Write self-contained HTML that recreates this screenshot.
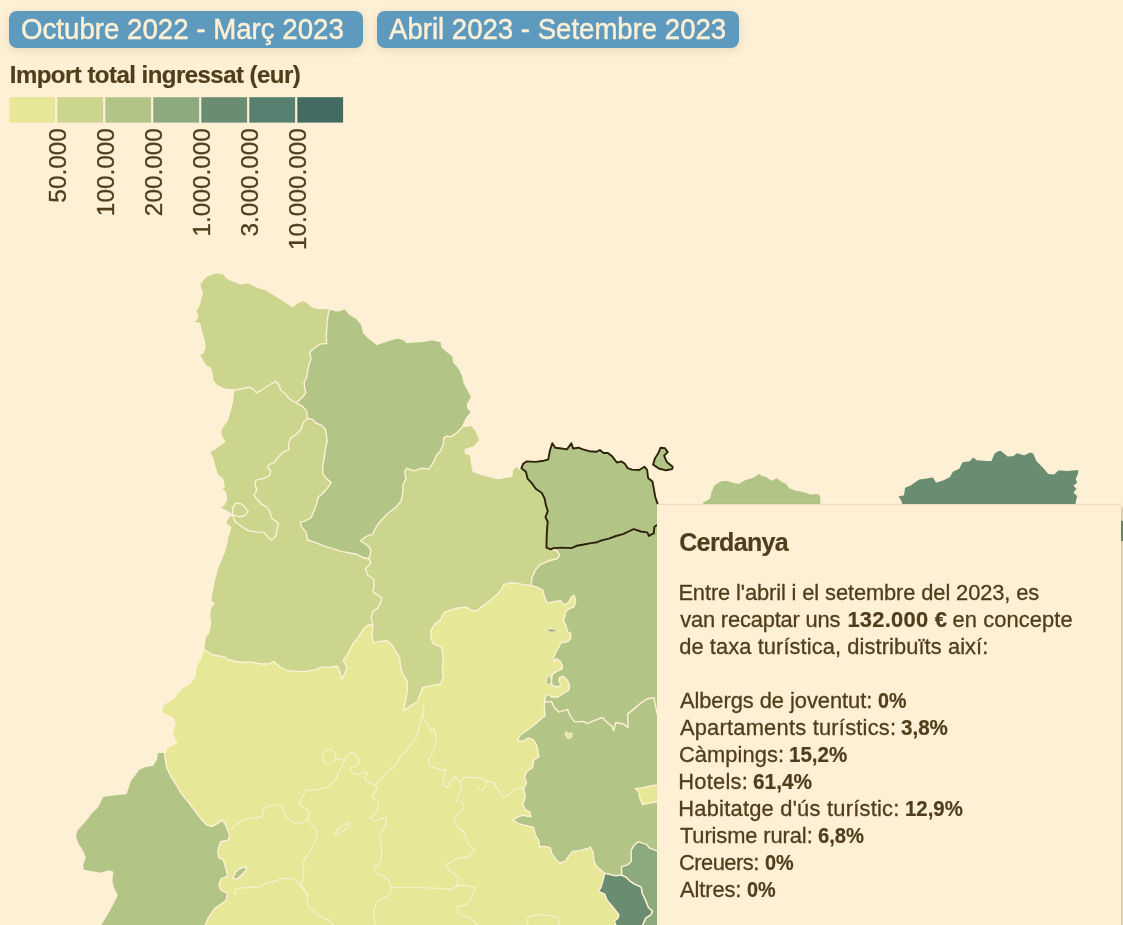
<!DOCTYPE html>
<html lang="ca"><head><meta charset="utf-8"><title>Taxa turística</title>
<style>
html,body{margin:0;padding:0;}
body{width:1123px;height:925px;overflow:hidden;background:#FDF0D5;font-family:"Liberation Sans",Arial,sans-serif;color:#4f3e1c;position:relative;}
svg{position:absolute;left:0;top:0;}
.btn{position:absolute;height:36.7px;border-radius:8px;background:#5E9ABE;box-shadow:0 2px 9px rgba(120,100,40,0.16);}
.lg{font-size:24.3px;fill:#4f3e1c;stroke:#4f3e1c;stroke-width:0.3px;font-family:"Liberation Sans",Arial,sans-serif;}
.tip{position:absolute;left:656.9px;top:504px;width:464.3px;height:440px;background:#FDF0D5;border-radius:0 3px 3px 3px;border-top:1px solid rgba(190,160,90,0.22);box-sizing:border-box;box-shadow:2px 2px 3px rgba(110,90,40,0.28);}
.t{position:absolute;line-height:30px;white-space:nowrap;}
</style></head><body>
<svg width="1123" height="925" viewBox="0 0 1123 925">
<path d="M203.3,648.8 201.6,656 198,663.1 195.3,668.5 195.3,675.6 190.8,682.7 184.6,686.3 178.4,691.7 173.9,697.9 166.8,702.4 163.2,705 161.4,712.6 173.5,718.6 175,724.7 172,733.8 176.6,742.8 167.5,747.4 165.3,752.1 162,758 160,800 160,930 645,930 645,860 620,800 620,560 520,560 450,590 400,610 330,620 250,635Z" fill="#E6E797" stroke="#FDF0D5" stroke-width="1.4" stroke-linejoin="round" />
<path d="M203.3,648.8 204.2,645.3 205.1,637.2 208.7,632.8 210.5,623.9 209.6,614.9 210.5,607.8 214,603.3 210.5,600.7 211.4,595.3 213.1,586.4 214.9,577.5 217.6,568.5 221.2,559.6 224.7,550.7 227.4,540 226.5,540.5 229.2,533 230.8,527.6 227,524.9 225.9,521.6 228.6,517.3 231.9,514.6 224.9,510.3 219.5,507.6 223.2,505.4 225.9,501.6 226.5,497.3 225.4,491.9 220.5,488.6 224,487.6 223.2,480 217.5,474.7 214.8,466.7 213,459.6 209.4,451.6 213.9,449.8 218.4,446.2 224.6,441.7 221.4,436.4 220.7,430.1 222.8,426.6 227.3,420.3 230,411.4 232.6,400.7 233.5,390.2 224.6,389.3 217.5,385.8 213,381.3 212.1,374.2 210.3,367.9 205.9,366.2 202.3,359.9 199.3,354.6 203.2,352.8 205,347.4 204.1,340.3 201.4,331.4 199.6,323.3 193.4,322.8 197.8,317.1 195.7,310.8 198.7,306.4 200.5,300.1 202.3,293 199.6,285 202.3,280.5 206.8,275.7 216.6,272.5 223.7,273.9 226.7,277.8 233.5,281.1 240.7,284.1 246.9,282.8 251.4,284.1 258.5,287.7 265.6,289.4 272.8,293.9 279.9,298.4 287,302.8 292.4,306.7 297.8,302.5 303.1,300.1 307.6,302.8 312,306.7 319.2,308.5 326.3,308.2 329.5,309.1 360,400 440,440 462.7,426.5 471.5,425.4 476,430.7 479.9,440.5 474.2,446.8 465.3,449.4 465.3,453 470.6,454.8 471.5,462.8 473.3,471.7 481.3,474.4 490.2,476.7 498.3,478.5 504.5,477.4 511.7,476.2 512.5,470 516.1,466 519.7,469.1 521.5,468.2 560,500 560,580 531.1,585.5 523.1,584.6 516,583.2 509.7,582.8 503.5,584.6 501.7,589.1 498.1,593.5 491,599.8 483.9,605.1 476.7,610.5 471.8,610.7 465.5,607.1 458.4,608 451.3,609.8 444.1,612.5 440.6,619.6 435.2,624.1 430.8,630.3 430.8,637.5 433.4,643.7 441.5,647.3 443.2,657.1 442.4,667.8 443.2,676.7 440.6,683.9 431.7,685.6 422.7,687.4 420.1,694.6 417.4,701.7 410.2,706.2 403.1,710.6 403.1,710.6 404.9,703.5 407,692.8 407.6,682.1 403.1,674.9 400.4,666 399.5,657.1 396,651.7 391.5,644.6 387,640.7 379.9,641.4 373.7,642.8 372.1,635.7 372.8,625 372.8,625 368.3,625 363.9,628.5 358.5,636.6 353.1,643.7 347.8,653.5 343.3,660.7 346.9,667.8 344.2,674.9 341.6,679.4 339.8,671.4 337.1,666 328.2,667.8 321.9,666.9 315.7,669.6 306.8,671.4 296.1,671.4 287.1,670.5 280,666.9 276.5,664 273.8,661.3 268.5,664 261.3,664 252.4,662.2 243.5,662.2 234.6,661.3 227.4,659.5 224.7,656.9 218.5,656 211.4,654.2 206.9,651.5 203.3,648.8Z" fill="#CBD58D" stroke="#FDF0D5" stroke-width="1.4" stroke-linejoin="round" />
<path d="M329.5,309.1 337.8,311.1 345,308.7 349.4,314.1 356.6,318.5 361.9,324.8 363.7,332.8 369.1,338.2 377.1,344.4 381.6,342.6 389.6,340 397.6,337.8 403.9,339.6 406.5,342.6 414.6,341.7 423.5,341.4 432.4,339.6 441.3,341.7 442.2,347.1 448.5,352.4 452.9,356 453.8,362.3 459.2,368.5 462.7,375.6 464.2,382.8 468.1,389.9 471.7,397 467.7,404.2 467.7,407.8 471.7,412.2 466.3,418.5 462.7,426.5 457.2,432.5 451,436.9 446.5,436.1 443.9,437.8 443,445 440.3,451.2 436.7,454.8 433.1,462.8 428.7,469.1 422.4,468.2 413.5,470.8 406.4,468.2 404.6,471.7 406,478.9 402.8,485.1 402.8,493.1 401,501.2 395.7,507.4 388.5,512.8 381.4,519.9 376.1,527 372.5,534.2 365.6,536.7 360.3,540.8 364.7,543.5 369.2,547.1 371,551.6 368.8,558.7 363.9,557.8 356.7,554.2 351.4,553.3 342.4,551.6 333.5,548.9 324.6,546.2 315.7,542.6 307.7,540 305.9,531.9 301.4,526.6 300.5,522.1 304.9,521.1 311.1,517.6 313.8,511.3 316.5,504.2 318.3,497 322.7,493.5 328.1,487.2 331.3,482.4 327.2,479.2 322.7,473.9 322.7,466.7 324.2,457.8 325.4,448.9 327.2,441.7 326.3,434.6 325.4,429.3 320.9,424.8 315.6,423 312.9,419.4 307.6,418.5 306.7,411.4 303.1,406.9 296,402.7 299.5,400.1 303.1,396.5 305.8,392.9 304.9,388.5 304,383.1 306.7,376.9 307.6,370.6 309.3,363.5 311.1,358.1 309.3,352.8 312.9,349.2 317.4,346 320.9,343.9 326.7,343.5 326.3,336.7 326.7,329.6 327.2,320.7 328.4,313.5 329.5,309.1Z" fill="#B3C487" stroke="#FDF0D5" stroke-width="1.4" stroke-linejoin="round" />
<path d="M521.4,468.2 523.2,463.7 526.8,461.4 535.7,461.9 543.7,460.7 548.2,459.6 550,450.3 552.3,443.2 555.3,447.7 561.6,448.5 566.9,449.4 571.4,443.2 573.1,448.5 578.5,447.7 583,449.4 589.2,451.2 596.3,451.8 599.9,450 603.5,453 607.9,453 612.4,456.6 616.9,462.5 621.3,461.4 624.9,463.7 627.6,468.2 632,469.6 639.2,470 644.5,466.7 647.2,470 648.1,478 652.5,481.6 653.8,488.7 655.2,496.7 657.5,503.5 700,510 700,900 625,900 604.7,873.3 596.7,866.6 594,861.2 593.1,852.3 590.4,847 586.9,848.8 579.7,850.6 572.6,851.4 569,855.9 565.5,861.2 560.1,863 556.6,860.3 552.1,854.1 550.3,847.9 544.1,846.1 539.7,847 538.8,840.8 535.2,834.5 533.4,827.4 526.3,825.6 518.3,823.8 512.9,819.9 518.3,816.7 522.7,815.3 530.8,816.7 529.9,812.3 525.4,809.6 522.7,804.2 525.4,797.1 523.7,788.8 526.4,783.5 524.6,777.2 526.4,771.9 532.6,767.4 533.5,760.3 538.9,756.7 538,751.4 537.1,746 533.5,739.8 528.2,738 521.9,741.6 517.5,739.8 520.1,735.3 526.4,730.8 533.5,725.5 540.7,719.3 545.1,715.7 544.2,706.8 545.1,697.8 544.3,703.2 544.6,698.9 546.5,695.1 549.7,694.6 551.4,697.3 557.8,696.8 563.2,693.5 568.6,690.3 569.7,685.9 567.6,680.5 563.2,676.2 559.5,677.3 558.9,680.5 560.5,683.8 560,686.2 555.7,686.8 551.9,684.9 551.4,680.5 552.4,674.1 556.8,671.4 562.2,668.6 562.2,665.4 560,661.1 556.2,658.9 554.1,662.7 553.5,657.8 555.7,652.4 558.9,647 561.1,642.7 567.6,641.6 570.6,638.9 570.8,633.5 567.6,631.9 565.9,625.4 563.2,620 564.1,618.5 565.9,611.4 569.5,608.7 574,606.9 575.7,600.7 574,595.3 571.3,597.1 568.6,602.4 564.1,605.1 560.6,600.7 553.4,601.6 547.2,603.3 544.5,597.1 542.7,590 537.4,587.3 531.1,585.5 531.1,585.5 532,577.5 535.6,569.4 540.9,564.1 549.9,560.5 557,558.7 559.7,555.2 557,550.7 550.8,549.3 546.4,547.6 546.7,536 547.3,525.3 547.8,521.7 545.5,517.2 547.8,511 546,505.6 544.6,498.5 541.9,493.1 535.7,488.7 531.2,482.4 527.7,478.9 525.9,471.7 521.4,468.2Z" fill="#B3C487" stroke="#FDF0D5" stroke-width="1.4" stroke-linejoin="round" />
<path d="M702.5,502.2 709.4,498.2 711.3,490.4 714.3,484.5 721.1,480.6 727,480 732.9,482 738.8,483.2 744.6,479.6 751.5,477.7 755.4,475.7 758.4,472.8 762.3,475.3 767.2,476.7 771.1,480 777,477.3 780.9,480.6 786.8,483.6 789.7,487.5 795.6,489.8 803.4,491.4 810.3,493.7 819.1,493.3 821,497.3 821,502.2 821,520 702,520Z" fill="#B3C487" stroke="#FDF0D5" stroke-width="1.4" stroke-linejoin="round" />
<path d="M157.2,752.5 164.4,752.1 165.3,759.6 167,768.5 171.5,777.5 176,784.6 181.3,793.5 188.5,802.4 194.7,810.5 200.9,818.5 206.3,824.7 211.7,826.5 217,823.9 222.4,819.9 225.9,825.6 229.5,834.6 228.6,839.9 220.6,841.7 217.9,850.6 218.8,857.8 223.2,859.5 225.9,868.5 227.7,876.5 221.5,878.3 218.8,884.5 220.6,889.9 227.7,893.4 225.9,900.6 214.4,908.9 208.3,918 205,926 100,926 108.4,912 113.5,902.4 117.1,895.2 113.5,888.1 111.7,880.9 112.6,872 108.2,871.1 101,873.5 92.1,872 83.2,870.2 82.3,864.9 85,857.8 83.2,852.4 77.8,843.5 75.2,836.3 76.9,830.1 85,821.2 91.2,813.1 97.5,806.9 100.1,801.6 102.8,796.2 117.1,794.4 126,793.5 127.8,788.2 130.5,780.1 134.9,774.8 138.5,769.4 143.9,766.8 152.8,765 156.3,759.6Z" fill="#B3C487" stroke="#FDF0D5" stroke-width="1.4" stroke-linejoin="round" />
<path d="M232.7,878.3 235.7,872 240.2,868.5 246.4,866.3 245.5,871.1 241.1,875.6 236.6,879.2Z" fill="#B3C487" stroke="#FDF0D5" stroke-width="1.4" stroke-linejoin="round" />
<path d="M653.1,464.6 654.9,458.4 658.4,453 660.6,447.7 665,448.2 667.7,452.1 664.1,455.7 666.8,461.9 672.7,466.7 672.2,469.1 665.9,470.3 658.8,468.5 653.1,464.6Z" fill="#B3C487" stroke="#2b2208" stroke-width="1.9" stroke-linejoin="round" />
<path d="M901.2,502.2 897.5,495.8 903.3,494.8 904.4,487.3 910.8,484.5 919.3,478.7 926.8,477.7 933.2,476.6 936.4,481.9 942.8,479.8 949.3,476.6 952.5,471.2 958.9,468 962.1,461.6 969.6,460.6 972.8,456.3 977,459.5 983.4,460.1 990.9,460.6 994.1,453.1 1000.1,449.2 1004.8,453.1 1008,455.9 1013.4,455.2 1016.6,452.4 1024.1,454.6 1030.5,451.6 1033.7,453.1 1036.9,460.6 1042.2,465.9 1048.6,473.4 1054,473.8 1058.3,469.5 1066.8,470.2 1075.3,469.5 1079.2,469.5 1078.6,474.4 1076.4,478.7 1077.9,483 1074.3,485.8 1077.5,488.8 1074.3,492.6 1077.9,495.8 1076.4,502.2 1076,520 1130,520 1130,541.6 900,541.6Z" fill="#6A8D72" stroke="#FDF0D5" stroke-width="1.4" stroke-linejoin="round" />
<path d="M621.6,875.1 621.6,866.6 627.8,864.8 631.4,861.2 631,850.6 634.1,845.2 638.5,841.6 643,843.4 646.5,844.3 649.2,847.9 653.6,849.7 658.1,851.4 700,851 700,930 642.1,926.2 645.6,918.2 651,914.7 652.4,911.1 648.3,907.5 645.6,900.4 642.1,893.3 641.2,887.1 634.9,884.4 629.6,880.8 626,877.3 621.6,875.1Z" fill="#8DAA7F" stroke="#FDF0D5" stroke-width="1.4" stroke-linejoin="round" />
<path d="M604.7,873.3 615.4,875.8 621.6,875.1 626,877.3 629.6,880.8 634.9,884.4 641.2,887.1 642.1,893.3 645.6,900.4 648.3,907.5 652.4,911.1 651,914.7 645.6,918.2 642.1,926.2 616.2,926.2 614.5,920.9 618,918.2 618.9,914.7 616.2,911.1 611.8,905.8 607.3,900.4 604.7,894.2 598.4,891.5 601.1,887.1 602.9,880.8 604.7,873.3Z" fill="#6A8D72" stroke="#FDF0D5" stroke-width="1.4" stroke-linejoin="round" />
<path d="M635.2,788.8 641.5,787.9 649.5,786.2 660.2,784.4 660.2,801.3 649.5,803.1 642.4,804.5 639.7,797.8 638.8,791.5 635.2,788.8Z" fill="#E6E797" stroke="#FDF0D5" stroke-width="1.4" stroke-linejoin="round" />
<path d="M565.6,731.7 569.2,733.5 571.9,732.6 571.9,737.1 568.3,738.9 565.3,735.3Z" fill="#E6E797" stroke="#FDF0D5" stroke-width="0.8" stroke-linejoin="round" />
<path d="M544.5,629.7 551.7,628.8 558.8,630.1 551.7,632.4 544.5,629.7Z" fill="#a9b77a" stroke="#FDF0D5" stroke-width="0.7" stroke-linejoin="round" />
<path d="M548.1,673.5 550.8,678.4 551.4,682.7 548.1,684.9 545.9,683.2 547,678.4Z" fill="#B3C487" stroke="#FDF0D5" stroke-width="1.0" stroke-linejoin="round" />
<path d="M296,402.7 292.4,400.9 288.8,398.3 285.3,393.8 280.8,390.2 279,384.9 275.5,381.3 271,384 263.9,388.5 256.7,392.9 253.1,389.3 249.6,387 242.4,388.8 233.5,390.2" fill="none" stroke="#FDF0D5" stroke-width="1.4" stroke-opacity="1" stroke-linejoin="round"/>
<path d="M307.6,418.5 303.1,422.1 301.3,429.3 296,434.6 290.6,438.2 288.5,443.5 288.8,449.8 282.6,452.4 278.1,456.9 274.6,462.3 268.3,464.9 267.4,467.6 271,471.2 269.2,475.6 263.9,478.3 255.8,480.1 255.7,480 255.1,485.4 256.8,489.7 254.1,495.1 257.3,499.5 261.6,504.3 267,507 269.7,511.4 271.9,518.4 275.7,521.1 278.4,523.2 277.3,528.6 275.7,536.2 271.4,540 267.6,536.8 263.8,532.4 256.2,531.9 248.6,530.8 243.2,527.6 237.3,523.2 235.1,521.6 233,516.8 232.2,514.8" fill="none" stroke="#FDF0D5" stroke-width="1.4" stroke-opacity="1" stroke-linejoin="round"/>
<path d="M232.4,514.6 233,507 235.7,503.2 241.1,503.8 244.3,506.5 248.1,511.4 244.9,515.7 238.9,516.8 232.4,514.6" fill="none" stroke="#FDF0D5" stroke-width="1.4" stroke-opacity="1" stroke-linejoin="round"/>
<path d="M368.8,558.7 371,563.1 365.6,568.5 367.4,574.7 373.7,579.2 374.2,585.5 372.8,591.7 378.1,595.3 381.7,597.9 379.9,604.2 377.2,608.6 372.8,611.3 371,617.8 372.8,625" fill="none" stroke="#FDF0D5" stroke-width="1.4" stroke-opacity="1" stroke-linejoin="round"/>
<path d="M545.1,702.3 551.4,701.4 554.9,708.5 559.4,712.1 567.4,709.4 570.1,715.7 574.6,721.9 583.5,721.4 587,723.7 594.2,720.7 602.2,717.5 607.6,722.8 612,726.4 613.8,730.8 615.6,722.8 622.7,723.7 628.1,727.3 627.7,713.9 633.4,709.4 640.6,703.2 647.7,698.7 654,697.8 657.5,715.7" fill="none" stroke="#FDF0D5" stroke-width="1.4" stroke-opacity="1" stroke-linejoin="round"/>
<path d="M230.7,829.9 236.1,824.6 243.2,820.1 248.5,818.3 255.7,818.3 262.8,815.6 263.7,809.4 268.2,805.8 275.3,804.9 282.4,806.7 285.1,813.9 288.7,819.2 294.9,822.8 302.1,822.8 307.4,819.2" fill="none" stroke="#FDF0D5" stroke-width="1.3" stroke-opacity="0.8" stroke-linejoin="round"/>
<path d="M307.4,819.2 309.2,813 305.6,808.5 298.5,804 302.1,797.8 305.6,790.7 312.8,789.8 319.9,788.9 327,787.1 334.2,781.7 337.8,774.6 341.3,767.5 344.9,760.3 348.5,753.2 352.9,752.3 357.4,756.8 359.2,763 355.6,765.7 350.2,767.5 352,772.8 359.2,774.6 362.7,771.9 368.1,772.8 364.5,778.2 369.9,783.5 375.2,785.3 377,788.9 373.4,794.2 371.7,797.8 377,799.6 378.8,804.9 377,810.3 373.4,815.6 369.9,818.3 375.2,821 382.4,818.3 386.8,817.4 385.9,824.6 381.5,831.7 379.7,838.8 381.5,847.8 381.5,856.7 379.7,863.8 373.4,867.4 375.2,872.7 382.4,875.4 388.6,879.9 391.3,887 389.5,895" fill="none" stroke="#FDF0D5" stroke-width="1.3" stroke-opacity="0.8" stroke-linejoin="round"/>
<path d="M322.6,753.2 325.3,750.5 330.6,749.6 335.1,753.2 336,758.5 332.4,763 327,764.8 323.5,762.1 322.6,753.2" fill="none" stroke="#FDF0D5" stroke-width="1.3" stroke-opacity="0.8" stroke-linejoin="round"/>
<path d="M336,758.5 344.9,760.3" fill="none" stroke="#FDF0D5" stroke-width="1.3" stroke-opacity="0.8" stroke-linejoin="round"/>
<path d="M307.4,819.2 312.8,826.3 317.2,831.7 316.3,838.8 312.8,846 309.2,853.1 304.7,858.5 303,865.6 303.9,874.5 302.1,881.7 300.3,885.2 303.9,890.6 309.2,895" fill="none" stroke="#FDF0D5" stroke-width="1.3" stroke-opacity="0.8" stroke-linejoin="round"/>
<path d="M300.3,885.2 294.9,879.9 287.8,878.1 280.7,879 273.5,881.7 266.4,883.4 259.3,887 252.1,887 243.2,887.9 236.1,888.8 234.3,895" fill="none" stroke="#FDF0D5" stroke-width="1.3" stroke-opacity="0.8" stroke-linejoin="round"/>
<path d="M334.2,833.5 337.8,829 344.9,824.6 350.2,822.8 348.5,826.3 343.1,830.8 337.8,834.4 334.2,833.5" fill="none" stroke="#FDF0D5" stroke-width="1.3" stroke-opacity="0.8" stroke-linejoin="round"/>
<path d="M423.6,707 423.7,704.3 422.8,713.2 420.1,722.1 418.4,731 415.7,738.2 410.3,745.3 405,752.4 399.6,757.8 396.1,764.9 388.9,770.3 383.6,775.6 380,779.2 375.2,785.3" fill="none" stroke="#FDF0D5" stroke-width="1.3" stroke-opacity="0.8" stroke-linejoin="round"/>
<path d="M422.8,713.2 423.7,718.5 428.2,725.7 431.7,731.9 434.4,728.4 436.2,736.4 435.3,745.3 431.7,754.2 428.2,761.4 430.8,766.7 437.1,768.5 442.4,770.3 446,769.4 444.2,777.4 442.4,784.6 446.9,788.1 451.4,781 455.8,776.5 459.4,782.8 461.2,789 458.5,795.3 456.7,801.5" fill="none" stroke="#FDF0D5" stroke-width="1.3" stroke-opacity="0.8" stroke-linejoin="round"/>
<path d="M459.4,782.8 463.9,777.4 472.8,777.4 481.7,778.3 485.3,781 486.2,786.3 481.7,789.9 477.2,788.1" fill="none" stroke="#FDF0D5" stroke-width="1.3" stroke-opacity="0.8" stroke-linejoin="round"/>
<path d="M485.3,781 494.2,782.8 497.8,789.9 503.1,797.9 508.5,795.3 513.8,789.9 520.9,788.1 523.6,789" fill="none" stroke="#FDF0D5" stroke-width="1.3" stroke-opacity="0.8" stroke-linejoin="round"/>
<path d="M300.2,882.8 306.9,893.5 308.2,906.9 317.6,914.9 328.2,920.2 333.6,925" fill="none" stroke="#FDF0D5" stroke-width="1.3" stroke-opacity="0.8" stroke-linejoin="round"/>
<path d="M389.5,895 387,896.2 376.3,901.5 373.7,912.2 375,925" fill="none" stroke="#FDF0D5" stroke-width="1.3" stroke-opacity="0.8" stroke-linejoin="round"/>
<path d="M391.3,887.5 413.7,887.6 435.1,888.2 451.1,889.5 457.8,885.5" fill="none" stroke="#FDF0D5" stroke-width="1.3" stroke-opacity="0.8" stroke-linejoin="round"/>
<path d="M460.5,800 464.5,808 453.8,818.7 456.5,826.7 464.5,832.1 467.2,842.7 475.2,850.8 469.8,856.1 456.5,858.8 445.8,865.5 451.1,872.1 459.2,877.5 456.5,885.5 467.2,885.5 475.2,888.2 472.5,896.2 467.2,904.2 456.5,906.9 459.2,914.9 469.8,917.6 477.9,925" fill="none" stroke="#FDF0D5" stroke-width="1.3" stroke-opacity="0.8" stroke-linejoin="round"/>
<path d="M527.2,926.2 528.1,916.4 538.8,914.7 551.2,915.6 558.4,918.2 559.3,926.2" fill="none" stroke="#FDF0D5" stroke-width="1.3" stroke-opacity="0.8" stroke-linejoin="round"/>
<path d="M521.4,468.2 523.2,463.7 526.8,461.4 535.7,461.9 543.7,460.7 548.2,459.6 550,450.3 552.3,443.2 555.3,447.7 561.6,448.5 566.9,449.4 571.4,443.2 573.1,448.5 578.5,447.7 583,449.4 589.2,451.2 596.3,451.8 599.9,450 603.5,453 607.9,453 612.4,456.6 616.9,462.5 621.3,461.4 624.9,463.7 627.6,468.2 632,469.6 639.2,470 644.5,466.7 647.2,470 648.1,478 652.5,481.6 653.8,488.7 655.2,496.7 657.5,503.5 659.5,512 700,512 700,520 656.6,525.3 654.3,527 653.8,533.3 651.7,534.2 649,536 647.2,532.4 640.9,531.5 633.8,529.2 628.5,531.5 623.1,534.2 616,536 608.8,538.6 601.7,540.4 597.2,542.2 591,543.1 583.9,544.5 576.7,545.8 571.4,548.1 562.4,547.6 553.5,548.1 550.8,549.3 546.4,547.6 546.7,536 547.3,525.3 547.8,521.7 545.5,517.2 547.8,511 546,505.6 544.6,498.5 541.9,493.1 535.7,488.7 531.2,482.4 527.7,478.9 525.9,471.7 521.4,468.2Z" fill="#B3C487" stroke="#2b2208" stroke-width="1.9" stroke-linejoin="round" />
<rect x="9.3" y="97.2" width="45.8" height="25.4" fill="#E6E797"/>
<rect x="57.3" y="97.2" width="45.8" height="25.4" fill="#CBD58D"/>
<rect x="105.3" y="97.2" width="45.8" height="25.4" fill="#B3C487"/>
<rect x="153.3" y="97.2" width="45.8" height="25.4" fill="#8DAA7F"/>
<rect x="201.3" y="97.2" width="45.8" height="25.4" fill="#6A8D72"/>
<rect x="249.3" y="97.2" width="45.8" height="25.4" fill="#588070"/>
<rect x="297.3" y="97.2" width="45.8" height="25.4" fill="#446B62"/>
<text class="lg" transform="translate(66.1,128.3) rotate(-90)" text-anchor="end">50.000</text>
<text class="lg" transform="translate(114.1,128.3) rotate(-90)" text-anchor="end">100.000</text>
<text class="lg" transform="translate(162.1,128.3) rotate(-90)" text-anchor="end">200.000</text>
<text class="lg" transform="translate(210.1,128.3) rotate(-90)" text-anchor="end">1.000.000</text>
<text class="lg" transform="translate(258.1,128.3) rotate(-90)" text-anchor="end">3.000.000</text>
<text class="lg" transform="translate(306.1,128.3) rotate(-90)" text-anchor="end">10.000.000</text>
</svg>

<div class="btn" style="left:9.3px;top:11px;width:353.6px;"></div>
<div class="btn" style="left:377.1px;top:11px;width:361.5px;"></div>
<div class="tip"></div>
<div class="t" style="left:20.90px;top:13.50px;font-size:30px;font-weight:normal;letter-spacing:0.000px;transform:scaleX(0.9218);transform-origin:0 0;-webkit-text-stroke:0.5px #FDF0D5;color:#FDF0D5">Octubre 2022 - Març 2023</div>
<div class="t" style="left:389.20px;top:13.50px;font-size:30px;font-weight:normal;letter-spacing:0.000px;transform:scaleX(0.9191);transform-origin:0 0;-webkit-text-stroke:0.5px #FDF0D5;color:#FDF0D5">Abril 2023 - Setembre 2023</div>
<div class="t" style="left:9.80px;top:60.10px;font-size:24px;font-weight:bold;letter-spacing:-0.533px;-webkit-text-stroke:0.2px #4f3e1c;color:#4f3e1c">Import total ingressat (eur)</div>
<div class="t" style="left:679.20px;top:526.80px;font-size:25px;font-weight:bold;letter-spacing:-0.629px;-webkit-text-stroke:0.2px #4f3e1c;color:#4f3e1c">Cerdanya</div>
<div class="t" style="left:678.40px;top:578.00px;font-size:21.86px;font-weight:normal;letter-spacing:-0.108px;-webkit-text-stroke:0.3px #4f3e1c;color:#4f3e1c">Entre l'abril i el setembre del 2023, es</div>
<div class="t" style="left:680.20px;top:605.00px;font-size:21.86px;font-weight:normal;letter-spacing:-0.173px;-webkit-text-stroke:0.3px #4f3e1c;color:#4f3e1c">van recaptar uns</div>
<div class="t" style="left:847.40px;top:605.00px;font-size:21.86px;font-weight:bold;letter-spacing:0.275px;-webkit-text-stroke:0.2px #4f3e1c;color:#4f3e1c">132.000 €</div>
<div class="t" style="left:952.40px;top:605.00px;font-size:21.86px;font-weight:normal;letter-spacing:0.120px;-webkit-text-stroke:0.3px #4f3e1c;color:#4f3e1c">en concepte</div>
<div class="t" style="left:679.20px;top:632.00px;font-size:21.86px;font-weight:normal;letter-spacing:0.086px;-webkit-text-stroke:0.3px #4f3e1c;color:#4f3e1c">de taxa turística, distribuïts així:</div>
<div class="t" style="left:679.90px;top:686.00px;font-size:21.86px;font-weight:normal;letter-spacing:-0.042px;-webkit-text-stroke:0.3px #4f3e1c;color:#4f3e1c">Albergs de joventut:</div>
<div class="t" style="left:878.00px;top:686.00px;font-size:21.86px;font-weight:bold;letter-spacing:0.000px;transform:scaleX(0.9000);transform-origin:0 0;-webkit-text-stroke:0.2px #4f3e1c;color:#4f3e1c">0%</div>
<div class="t" style="left:679.90px;top:713.00px;font-size:21.86px;font-weight:normal;letter-spacing:0.229px;-webkit-text-stroke:0.3px #4f3e1c;color:#4f3e1c">Apartaments turístics:</div>
<div class="t" style="left:901.40px;top:713.00px;font-size:21.86px;font-weight:bold;letter-spacing:0.000px;transform:scaleX(0.9419);transform-origin:0 0;-webkit-text-stroke:0.2px #4f3e1c;color:#4f3e1c">3,8%</div>
<div class="t" style="left:678.90px;top:740.00px;font-size:21.86px;font-weight:normal;letter-spacing:0.100px;-webkit-text-stroke:0.3px #4f3e1c;color:#4f3e1c">Càmpings:</div>
<div class="t" style="left:789.40px;top:740.00px;font-size:21.86px;font-weight:bold;letter-spacing:0.000px;transform:scaleX(0.9401);transform-origin:0 0;-webkit-text-stroke:0.2px #4f3e1c;color:#4f3e1c">15,2%</div>
<div class="t" style="left:678.30px;top:767.00px;font-size:21.86px;font-weight:normal;letter-spacing:0.233px;-webkit-text-stroke:0.3px #4f3e1c;color:#4f3e1c">Hotels:</div>
<div class="t" style="left:753.20px;top:767.00px;font-size:21.86px;font-weight:bold;letter-spacing:0.000px;transform:scaleX(0.9534);transform-origin:0 0;-webkit-text-stroke:0.2px #4f3e1c;color:#4f3e1c">61,4%</div>
<div class="t" style="left:678.30px;top:794.00px;font-size:21.86px;font-weight:normal;letter-spacing:0.235px;-webkit-text-stroke:0.3px #4f3e1c;color:#4f3e1c">Habitatge d'ús turístic:</div>
<div class="t" style="left:904.70px;top:794.00px;font-size:21.86px;font-weight:bold;letter-spacing:0.000px;transform:scaleX(0.9333);transform-origin:0 0;-webkit-text-stroke:0.2px #4f3e1c;color:#4f3e1c">12,9%</div>
<div class="t" style="left:679.90px;top:821.00px;font-size:21.86px;font-weight:normal;letter-spacing:-0.092px;-webkit-text-stroke:0.3px #4f3e1c;color:#4f3e1c">Turisme rural:</div>
<div class="t" style="left:818.40px;top:821.00px;font-size:21.86px;font-weight:bold;letter-spacing:0.000px;transform:scaleX(0.9252);transform-origin:0 0;-webkit-text-stroke:0.2px #4f3e1c;color:#4f3e1c">6,8%</div>
<div class="t" style="left:678.90px;top:848.00px;font-size:21.86px;font-weight:normal;letter-spacing:-0.486px;-webkit-text-stroke:0.3px #4f3e1c;color:#4f3e1c">Creuers:</div>
<div class="t" style="left:765.10px;top:848.00px;font-size:21.86px;font-weight:bold;letter-spacing:0.000px;transform:scaleX(0.9071);transform-origin:0 0;-webkit-text-stroke:0.2px #4f3e1c;color:#4f3e1c">0%</div>
<div class="t" style="left:679.90px;top:875.00px;font-size:21.86px;font-weight:normal;letter-spacing:-0.067px;-webkit-text-stroke:0.3px #4f3e1c;color:#4f3e1c">Altres:</div>
<div class="t" style="left:747.10px;top:875.00px;font-size:21.86px;font-weight:bold;letter-spacing:0.000px;transform:scaleX(0.9072);transform-origin:0 0;-webkit-text-stroke:0.2px #4f3e1c;color:#4f3e1c">0%</div>
</body></html>
